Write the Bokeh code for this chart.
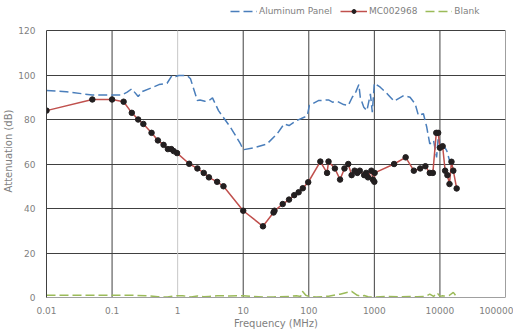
from bokeh.plotting import figure
from bokeh.models import FixedTicker, Legend, LegendItem
from bokeh.embed import file_html
from bokeh.resources import INLINE

# ---- data ----
x_ticks = [0.01, 0.1, 1, 10, 100, 1000, 10000, 100000]
x_tick_labels = ["0.01", "0.1", "1", "10", "100", "1000", "10000", "100000"]
y_ticks = [0, 20, 40, 60, 80, 100, 120]

al_f = [0.01, 0.02, 0.05, 0.1, 0.14, 0.17, 0.2, 0.22, 0.25, 0.29, 0.39, 0.52, 0.69,
        0.82, 0.93, 1.04, 1.4, 1.57, 2.0, 2.2, 2.6, 3.0, 3.4, 4.2, 6.4, 9.1, 10,
        14.5, 23, 33, 42, 50, 66, 85, 95, 102, 140, 200, 230, 270, 340, 400, 460,
        520, 580, 610, 690, 770, 870, 930, 1000, 1230, 1580, 2000, 2800, 3500,
        4200, 4700, 5600, 6300, 7000, 8000, 8900, 9600, 10000, 11000, 12700,
        14000, 15500]
al_db = [93, 92.5, 91, 91, 91, 92.3, 93.8, 92.3, 90.3, 92.6, 94.1, 95.7, 96.3,
         99.8, 99.3, 99.8, 99.8, 98.3, 88.5, 88.8, 88.2, 88.5, 89.7, 84, 76.5, 69,
         66.4, 67.3, 69, 73.6, 78, 77.3, 79.6, 81, 81.8, 86.3, 88.5, 88.8, 87.8,
         88.2, 86.7, 86.3, 90, 92.3, 95.7, 90, 85.5, 84, 91.5, 83.3, 96.3, 94.5,
         91.5, 88.2, 90.8, 90, 87, 81.8, 82.6, 76.5, 69, 70.6, 63, 75, 67.5, 69,
         66, 61.6, 62]

mc_f = [0.01, 0.05, 0.1, 0.15, 0.2, 0.25, 0.3, 0.4, 0.5, 0.61, 0.71, 0.8, 0.87,
        0.98, 1.5, 2.0, 2.5, 3.0, 4.0, 5.0, 10, 20, 29, 30, 40, 50, 60, 70, 81,
        98, 150, 190, 200, 250, 300, 350, 400, 450, 500, 550, 600, 700, 750, 800,
        900, 950, 1000, 1010, 2000, 3000, 4000, 5000, 6000, 7000, 7800, 8800,
        9400, 10000, 11000, 12000, 13000, 14000, 15000, 16000, 18000]
mc_db = [84, 89, 89, 88, 83, 80, 78, 74, 70.6, 68.6, 66.7, 66.7, 65.8, 64.9,
         60.1, 58, 56, 54, 52, 50, 39, 32, 38.2, 39, 42, 44, 46, 47.3, 49.1, 51.8,
         61.1, 56, 61.1, 58, 53, 58, 60, 55, 57, 56, 57, 55, 56, 54, 57, 53, 52,
         56, 60, 63, 57, 58, 59, 56, 56, 74, 74, 67.3, 68, 57, 55, 51, 61, 57, 49]

bl_f = [0.01, 0.1, 0.2, 0.35, 0.5, 0.7, 0.9, 1.2, 1.6, 2, 2.5, 3, 4, 6, 8, 10, 13,
        20, 30, 50, 65, 75, 80, 90, 100, 130, 200, 300, 450, 550, 650, 700, 800,
        1000, 1500, 2500, 3500, 4500, 6000, 7000, 8000, 9000, 10000, 11000,
        12000, 14000, 16000, 18000]
bl_db = [1, 1, 1, 0.8, 0.3, 0.2, 0.8, 0.8, 0.2, 0.7, 0.3, 0.5, 0.8, 0.7, 0.8, 0.8,
         0.5, 0.2, 0.3, 0.5, 0.8, 0.5, 2.8, 1.0, 0.5, 0.2, 0.6, 1.5, 2.8, 1.0, 0.5,
         0.9, 0.3, 0.2, 0.5, 0.3, 0.5, 0.3, 0.5, 1.5, 0.5, 2.2, 0.5, 0.8, 0.6, 1.0,
         2.3, 0.3]

FONT = "DejaVu Sans"
GRAY = "#7f7f7f"
GRID = "#404040"

# frame extends above 120 to make room for the legend inside it
p = figure(frame_width=459, frame_height=293, x_axis_type="log",
           x_range=(0.01, 100000), y_range=(0, 131.69), output_backend="svg",
           toolbar_location=None, min_border_left=38, min_border_right=8,
           min_border_top=4, min_border_bottom=26)
p.outline_line_color = None
p.background_fill_color = "white"

p.xaxis.ticker = FixedTicker(ticks=x_ticks)
p.xaxis.major_label_overrides = {t: s for t, s in zip(x_ticks, x_tick_labels)}
p.yaxis.ticker = FixedTicker(ticks=y_ticks)
p.yaxis.bounds = (y_ticks[0], y_ticks[-1])
for ax in (p.xaxis, p.yaxis):
    ax.major_tick_line_color = None
    ax.minor_tick_line_color = None
    ax.major_label_text_font = FONT
    ax.major_label_text_font_size = "9px"
    ax.major_label_text_color = GRAY
    ax.axis_label_text_font = FONT
    ax.axis_label_text_font_size = "10px"
    ax.axis_label_text_color = GRAY
    ax.axis_label_text_font_style = "normal"
p.xaxis.axis_label = "Frequency (MHz)"
p.yaxis.axis_label = "Attenuation (dB)"
p.xaxis.axis_line_color = "#a0a0a0"
p.yaxis.axis_line_color = GRID
p.xaxis.major_label_standoff = 3
p.xaxis.axis_label_standoff = 1
p.yaxis.major_label_standoff = 5
p.yaxis.axis_label_standoff = 1

# grid: horizontal from the y grid, vertical as segments limited to 0..120
p.xgrid.grid_line_color = None
p.ygrid.ticker = FixedTicker(ticks=y_ticks)
p.ygrid.grid_line_color = GRID
p.ygrid.grid_line_width = 1
xg_dark = [t for t in x_ticks if t != 1]
xg_light = [t for t in x_ticks if t == 1]
p.segment(x0=xg_dark, y0=[y_ticks[0]] * len(xg_dark), x1=xg_dark,
          y1=[y_ticks[-1]] * len(xg_dark), line_color=GRID, line_width=1)
p.segment(x0=xg_light, y0=[y_ticks[0]] * len(xg_light), x1=xg_light,
          y1=[y_ticks[-1]] * len(xg_light), line_color="#c8c8c8", line_width=1)

r_al = p.line(al_f, al_db, line_color="#4a7ebb", line_width=1.5, line_dash="9 4")
r_mc = p.line(mc_f, mc_db, line_color="#c0504d", line_width=1.5)
r_mcs = p.scatter(mc_f, mc_db, size=5.5, fill_color="#231f20", line_color="#231f20")
r_bl = p.line(bl_f, bl_db, line_color="#9bbb59", line_width=1.5, line_dash="9 4")

legend = Legend(items=[LegendItem(label="Aluminum Panel", renderers=[r_al]),
                       LegendItem(label="MC002968", renderers=[r_mc, r_mcs]),
                       LegendItem(label="Blank", renderers=[r_bl])],
                orientation="horizontal", location=(184, 281),
                label_text_font=FONT, label_text_font_size="9px",
                label_text_color=GRAY, glyph_width=27, glyph_height=10,
                label_standoff=2, spacing=8, padding=0, margin=0,
                border_line_color=None, background_fill_alpha=0,
                label_height=10)
p.add_layout(legend, "center")

open("out.html", "w").write(file_html(p, INLINE))
